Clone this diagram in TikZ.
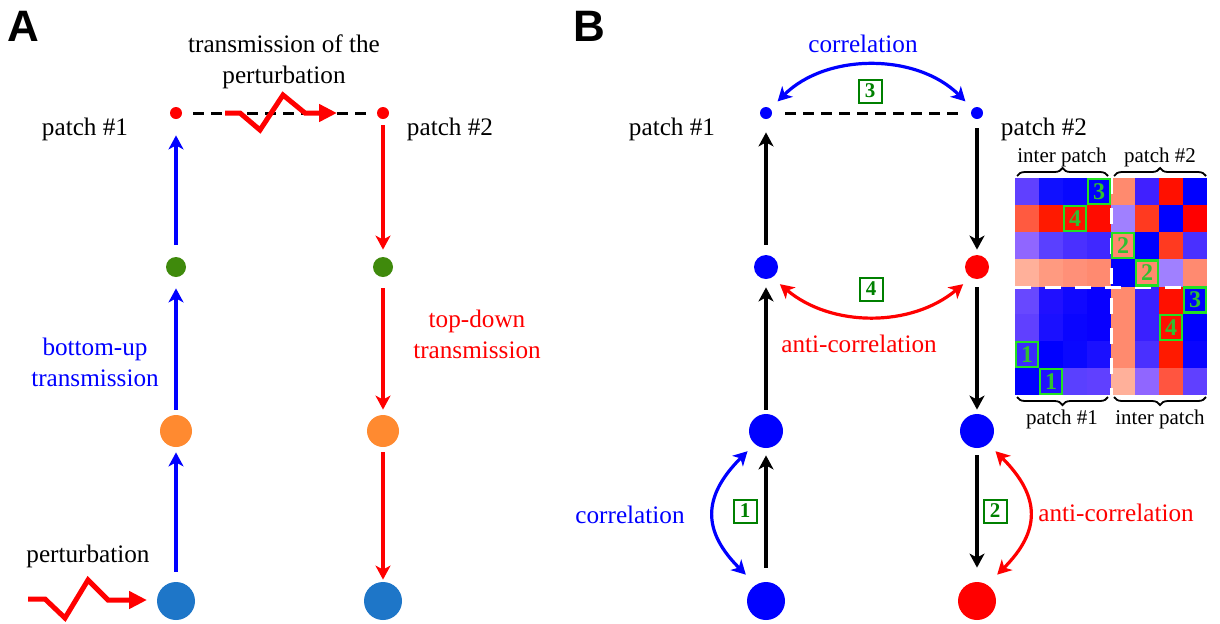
\documentclass[tikz,border=0pt]{standalone}
\usepackage{fontspec}
\setmainfont{Liberation Serif}
\newfontfamily\panelfont{Liberation Sans}
\usetikzlibrary{arrows.meta,decorations.pathreplacing,calc}
\definecolor{agreen}{HTML}{3F8A0C}
\definecolor{aorange}{HTML}{FF8A30}
\definecolor{ablue}{HTML}{1E76C8}
\definecolor{numgreen}{HTML}{008000}
\definecolor{cellgreen}{HTML}{22E022}
\definecolor{celltext}{HTML}{30C030}
\begin{document}
\begin{tikzpicture}[x=0.5pt,y=0.5pt,
  dot/.style={circle,inner sep=0pt,minimum size=#1},
  lbl/.style={font=\fontsize{12.6}{15.5}\selectfont,inner sep=0pt,align=center},
  mlbl/.style={font=\fontsize{10.5}{12}\selectfont,inner sep=0pt},
  panel/.style={font=\fontsize{22}{24}\panelfont\bfseries\selectfont,inner sep=0pt},
  arr/.style={line width=1.8pt,-{Stealth[length=7pt,width=7.5pt,inset=2pt]}},
  darr/.style={line width=1.6pt,{Stealth[length=7pt,width=7.5pt,inset=2pt]}-{Stealth[length=7pt,width=7.5pt,inset=2pt]}},
  dashline/.style={line width=1.5pt,dash pattern=on 5.5pt off 3.5pt},
  zig/.style={red,line width=2.5pt,line join=miter,-{Triangle[length=9pt,width=8.5pt]}},
  numbox/.style={draw=numgreen,line width=1pt,text=numgreen,font=\fontsize{10.5}{12}\selectfont\bfseries,minimum width=11.5pt,minimum height=11.5pt,inner sep=0pt},
  cellbox/.style={draw=cellgreen,line width=1.1pt,text=celltext,font=\fontsize{12}{13}\selectfont\bfseries,minimum width=11pt,minimum height=12.5pt,inner sep=0pt},
  bracestyle/.style={decorate,decoration={brace,amplitude=4pt},line width=0.9pt}
]
\useasboundingbox (0,0) rectangle (1220,-623);

% ---------------- Panel A ----------------
\node[panel] (labA) at (23,-26) {A};

\node[dot=6pt,fill=red] (la1) at (176,-113) {};
\node[dot=10pt,fill=agreen] (la2) at (176,-267) {};
\node[dot=16pt,fill=aorange] (la3) at (176,-431) {};
\node[dot=19pt,fill=ablue] (la4) at (176,-601) {};
\node[dot=6pt,fill=red] (ra1) at (383,-113) {};
\node[dot=10pt,fill=agreen] (ra2) at (383,-267) {};
\node[dot=16pt,fill=aorange] (ra3) at (383,-431) {};
\node[dot=19pt,fill=ablue] (ra4) at (383,-601) {};

\draw[arr,blue,shorten <=5pt,shorten >=2.5pt] (la4) -- (la3);
\draw[arr,blue,shorten <=2.5pt,shorten >=5.5pt] (la3) -- (la2);
\draw[arr,blue,shorten <=6pt,shorten >=8pt] (la2) -- (la1);
\draw[arr,red,shorten <=3pt,shorten >=3.5pt] (ra1) -- (ra2);
\draw[arr,red,shorten <=5.5pt,shorten >=2.5pt] (ra2) -- (ra3);
\draw[arr,red,shorten <=2.5pt,shorten >=1pt] (ra3) -- (ra4);

\draw[dashline,shorten <=5.5pt,shorten >=3.5pt] (la1) -- (ra1);

\coordinate (zt0) at (225,-113);
\coordinate (zt1) at (337,-113);
\draw[zig] (zt0) -- (240,-113) -- (260,-130) -- (283,-95) -- (305,-113) -- (zt1);
\coordinate (zb0) at (28,-599);
\coordinate (zb1) at (147,-600);
\draw[zig] (zb0) -- (45,-599) -- (65,-618) -- (88,-580) -- (108,-600) -- (zb1);

\node[lbl] (tA) at (284,-62) {transmission of the\\perturbation};
\node[lbl] (p1A) at (85,-129) {patch \#1};
\node[lbl] (p2A) at (450,-129) {patch \#2};
\node[lbl,blue] (buA) at (95,-362) {bottom-up\\transmission};
\node[lbl,red] (tdA) at (477,-334) {top-down\\transmission};
\node[lbl] (pertA) at (88,-556) {perturbation};

% ---------------- Panel B ----------------
\node[panel] (labB) at (589,-26) {B};

\node[dot=6pt,fill=blue] (lb1) at (766,-113) {};
\node[dot=12pt,fill=blue] (lb2) at (766,-267) {};
\node[dot=17pt,fill=blue] (lb3) at (766,-431) {};
\node[dot=19pt,fill=blue] (lb4) at (766,-601) {};
\node[dot=6pt,fill=blue] (rb1) at (977,-113) {};
\node[dot=12pt,fill=red] (rb2) at (977,-267) {};
\node[dot=17pt,fill=blue] (rb3) at (977,-431) {};
\node[dot=19pt,fill=red] (rb4) at (977,-601) {};

\draw[arr,shorten <=7pt,shorten >=3.5pt] (lb4) -- (lb3);
\draw[arr,shorten <=2pt,shorten >=4pt] (lb3) -- (lb2);
\draw[arr,shorten <=5pt,shorten >=6.5pt] (lb2) -- (lb1);
\draw[arr,shorten <=4.5pt,shorten >=2.5pt] (rb1) -- (rb2);
\draw[arr,shorten <=4pt,shorten >=2pt] (rb2) -- (rb3);
\draw[arr,shorten <=3.5pt,shorten >=7pt] (rb3) -- (rb4);

\draw[dashline,shorten <=6.5pt,shorten >=5.5pt] (lb1) -- (rb1);

\draw[darr,blue,shorten <=5pt,shorten >=5pt] (lb1.45) to[out=45,in=135] (rb1.135);
\draw[darr,red,shorten <=5pt,shorten >=5pt] (lb2.-60) to[out=-40,in=-140] (rb2.-120);
\draw[darr,blue,shorten <=5pt,shorten >=7pt] (lb3.229) .. controls +(225:75) and +(135:75) .. (lb4.122);
\draw[darr,red,shorten <=5pt,shorten >=7pt] (rb3.311) .. controls +(-45:75) and +(45:75) .. (rb4.58);

\node[numbox] (n1) at (745,-511) {1};
\node[numbox] (n2) at (995,-511) {2};
\node[numbox] (n3) at (870,-91) {3};
\node[numbox] (n4) at (871,-289) {4};

\node[lbl,blue] (cTop) at (863,-44) {correlation};
\node[lbl,red] (acMid) at (859,-344) {anti-correlation};
\node[lbl,blue] (cLeft) at (630,-515) {correlation};
\node[lbl,red] (acRight) at (1116,-513) {anti-correlation};
\node[lbl] (p1B) at (672,-129) {patch \#1};
\node[lbl] (p2B) at (1044,-129) {patch \#2};

% ---------------- Matrix ----------------
\foreach \r/\row in {
 1/{6040FF,1010FF,0808FF,0000FF,FF8A6E,4020FF,FF1000,0000FF},
 2/{FF5A40,FF1A00,FF1200,FF0C00,A080FF,FF3A20,0000FF,FF0000},
 3/{9066FF,5A40FF,4A30FF,4028FF,FF8A6E,0000FF,FF3A20,4A30FF},
 4/{FFB09A,FF9A80,FF9078,FF8A70,0000FF,FF8A6E,A080FF,FF8A70},
 5/{6848FF,2010FF,1008FF,0800FF,FF8A6E,3A20FF,FF1000,0000FF},
 6/{6040FF,1A10FF,0A05FF,0800FF,FF8A6E,3A20FF,FF1000,0000FF},
 7/{3A2AFF,0000FF,0A08FF,1A10FF,FF8A6E,4A30FF,FF1A00,0A05FF},
 8/{0000FF,2010FF,5A40FF,6040FF,FFB09A,9066FF,FF5540,6040FF}}{
  \foreach \h [count=\c] in \row {
    \definecolor{cc}{HTML}{\h}
    \fill[cc] ({1015+(\c-1)*24},{-178-(\r-1)*27.125}) rectangle ++(24,-27.125);
  }
}
\draw[white,line width=1.5pt,dash pattern=on 8pt off 7pt] (1111,-178) -- (1111,-395);
\draw[white,line width=1.5pt,dash pattern=on 8pt off 7pt] (1015,-287) -- (1207,-287);

\foreach \r/\c/\t in {1/4/3,2/3/4,3/5/2,4/6/2,5/8/3,6/7/4,7/1/1,8/2/1}{
  \node[cellbox] (m\r\c) at ({1015+(\c-0.5)*24},{-178-(\r-0.5)*27.125}) {\t};
}

\draw[bracestyle] (1017,-176) -- (1108,-176);
\draw[bracestyle] (1114,-176) -- (1206,-176);
\draw[bracestyle] (1108,-397) -- (1017,-397);
\draw[bracestyle] (1206,-397) -- (1114,-397);
\node[mlbl] (mt1) at (1062,-157) {inter patch};
\node[mlbl] (mt2) at (1160,-157) {patch \#2};
\node[mlbl] (mb1) at (1062,-419) {patch \#1};
\node[mlbl] (mb2) at (1160,-419) {inter patch};
\end{tikzpicture}
\end{document}
